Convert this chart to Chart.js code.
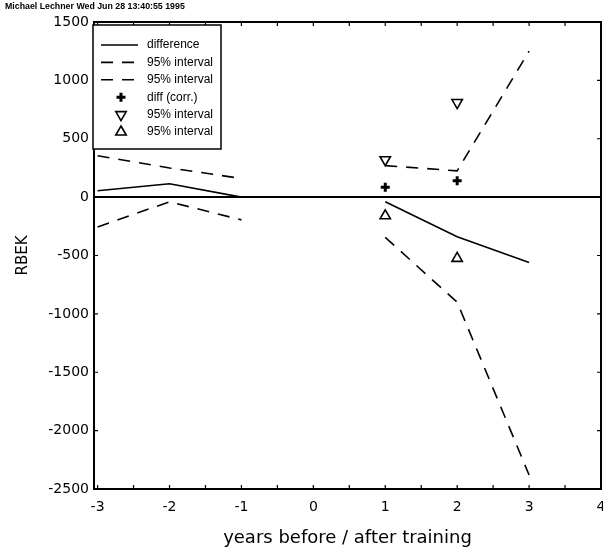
<!DOCTYPE html>
<html>
<head>
<meta charset="utf-8">
<title>RBEK difference</title>
<script src="https://cdn.jsdelivr.net/npm/chart.js@4.4.1/dist/chart.umd.min.js"></script>
<style>
  html, body { margin: 0; padding: 0; background: #fff; }
  #wrap { width: 603px; height: 554px; overflow: hidden; }
</style>
</head>
<body>
<div id="wrap"><canvas id="rbekChart" width="603" height="554"></canvas></div>
<script>
// years relative to training
const years = [-3, -2, -1, 0, 1, 2, 3];
const difference = [55, 115, 0, null, -40, -340, -560];
const upper95 = [355, 250, 160, null, 270, 225, 1250];
const lower95 = [-255, -40, -195, null, -345, -900, -2380];

// corrected estimates (markers only)
const corrYears = [1, 2];
const diffCorr = [85, 140];
const corrUpper = [320, 810];
const corrLower = [-160, -525];

const xTicks = [-3, -2, -1, 0, 1, 2, 3, 4];
const yTicks = [1500, 1000, 500, 0, -500, -1000, -1500, -2000, -2500];

const header = 'Michael Lechner Wed Jun 28 13:40:55 1995';
const fontFamily = "'DejaVu Sans', 'Liberation Sans', Arial, sans-serif";

const pts = (xs, ys) => xs.map((x, i) => ({ x: x, y: ys[i] }));

// frame with inward ticks + header text
const frameTicks = {
  id: 'frameTicks',
  afterDatasetsDraw(chart) {
    const { ctx, chartArea: a, scales } = chart;
    ctx.save();
    ctx.strokeStyle = '#000';
    ctx.lineWidth = 2;
    ctx.strokeRect(a.left, a.top, a.right - a.left, a.bottom - a.top);
    ctx.lineWidth = 1.2;
    ctx.beginPath();
    for (let v = -3; v <= 4; v += 0.5) {
      const px = scales.x.getPixelForValue(v);
      ctx.moveTo(px, a.bottom); ctx.lineTo(px, a.bottom - 4);
      ctx.moveTo(px, a.top); ctx.lineTo(px, a.top + 4);
    }
    yTicks.forEach(v => {
      const py = scales.y.getPixelForValue(v);
      ctx.moveTo(a.left, py); ctx.lineTo(a.left + 4, py);
      ctx.moveTo(a.right, py); ctx.lineTo(a.right - 4, py);
    });
    ctx.stroke();
    ctx.fillStyle = '#000';
    ctx.font = "bold 8.8px 'Liberation Sans', Arial, sans-serif";
    ctx.textBaseline = 'middle';
    ctx.fillText(header, 5, 7);
    ctx.restore();
  }
};

function drawSymbol(ctx, ds, x, y) {
  ctx.save();
  ctx.strokeStyle = '#000';
  ctx.fillStyle = '#000';
  if (ds.showLine === false) {
    const r = ds.pointRadius;
    ctx.lineWidth = ds.pointBorderWidth;
    ctx.beginPath();
    if (ds.pointStyle === 'cross') {
      ctx.moveTo(x - r, y); ctx.lineTo(x + r, y);
      ctx.moveTo(x, y - r); ctx.lineTo(x, y + r);
      ctx.stroke();
    } else {
      const dir = ds.pointRotation === 180 ? -1 : 1;
      ctx.moveTo(x, y - dir * r);
      ctx.lineTo(x + r * 0.87, y + dir * r * 0.5);
      ctx.lineTo(x - r * 0.87, y + dir * r * 0.5);
      ctx.closePath();
      ctx.stroke();
    }
  } else {
    ctx.lineWidth = ds.borderWidth;
    ctx.setLineDash(ds.borderDash || []);
    ctx.beginPath();
    ctx.moveTo(x - 20, y);
    ctx.lineTo(x + 17, y);
    ctx.stroke();
  }
  ctx.restore();
}

// boxed legend inside the plot, upper left
const boxLegend = {
  id: 'boxLegend',
  afterDraw(chart) {
    const { ctx, chartArea: a } = chart;
    const left = a.left - 1, top = a.top + 3, w = 128, h = 124;
    ctx.save();
    ctx.fillStyle = '#fff';
    ctx.fillRect(left, top, w, h);
    ctx.strokeStyle = '#000';
    ctx.lineWidth = 1.5;
    ctx.strokeRect(left, top, w, h);
    ctx.font = "12px 'Liberation Sans', Arial, sans-serif";
    ctx.textBaseline = 'middle';
    chart.data.datasets.forEach((ds, i) => {
      const y = top + 20 + i * 17.4;
      drawSymbol(ctx, ds, left + 28, y);
      ctx.fillStyle = '#000';
      ctx.fillText(ds.label, left + 54, y);
    });
    ctx.restore();
  }
};

const lineStyle = { borderColor: '#000', backgroundColor: '#000', pointRadius: 0, borderWidth: 1.6, spanGaps: false, fill: false, tension: 0 };
const markStyle = { showLine: false, borderColor: '#000', pointBackgroundColor: '#fff', pointBorderColor: '#000' };

new Chart(document.getElementById('rbekChart'), {
  type: 'line',
  data: {
    datasets: [
      { ...lineStyle, label: 'difference', data: pts(years, difference) },
      { ...lineStyle, label: '95% interval', data: pts(years, upper95), borderDash: [12, 9] },
      { ...lineStyle, label: '95% interval', data: pts(years, lower95), borderDash: [12, 9] },
      { ...markStyle, label: 'diff (corr.)', data: pts(corrYears, diffCorr), pointStyle: 'cross', pointRadius: 4.5, pointBorderWidth: 3 },
      { ...markStyle, label: '95% interval', data: pts(corrYears, corrUpper), pointStyle: 'triangle', pointRotation: 180, pointRadius: 6, pointBorderWidth: 1.6 },
      { ...markStyle, label: '95% interval', data: pts(corrYears, corrLower), pointStyle: 'triangle', pointRadius: 6, pointBorderWidth: 1.6 }
    ]
  },
  options: {
    responsive: false,
    animation: false,
    devicePixelRatio: 1,
    // marker sizes would otherwise add extra padding round the plot
    layout: { autoPadding: false, padding: { top: 22, right: 2, left: 0, bottom: 0 } },
    plugins: {
      legend: { display: false },
      tooltip: { enabled: false },
      title: { display: false }
    },
    scales: {
      x: {
        type: 'linear',
        min: -3.05,
        max: 4,
        afterBuildTicks: s => { s.ticks = xTicks.map(v => ({ value: v })); },
        // fixed axis height; let the "4" label run off the edge like the original
        afterFit: s => { s.height = 65; s.paddingLeft = 0; s.paddingRight = 0; },
        grid: { display: false, drawTicks: false },
        border: { display: false },
        ticks: {
          autoSkip: false, maxRotation: 0, padding: 10, color: '#000',
          font: { family: fontFamily, size: 14 },
          callback: v => String(v)
        },
        title: {
          display: true, text: 'years before / after training', color: '#000',
          font: { family: fontFamily, size: 18 }, padding: { top: 0, bottom: 5 }
        }
      },
      y: {
        min: -2500,
        max: 1500,
        afterBuildTicks: s => { s.ticks = yTicks.map(v => ({ value: v })); },
        afterFit: s => { s.width = 94; s.paddingTop = 0; s.paddingBottom = 0; },
        grid: {
          drawTicks: false,
          color: c => (c.tick && c.tick.value === 0 ? '#000' : 'rgba(0,0,0,0)'),
          lineWidth: 2
        },
        border: { display: false },
        ticks: {
          padding: 5, color: '#000',
          font: { family: fontFamily, size: 14 },
          callback: v => String(v)
        },
        title: {
          display: true, text: 'RBEK', color: '#000',
          font: { family: fontFamily, size: 15 }, padding: { top: 14, bottom: 0 }
        }
      }
    }
  },
  plugins: [frameTicks, boxLegend]
});
</script>
</body>
</html>
